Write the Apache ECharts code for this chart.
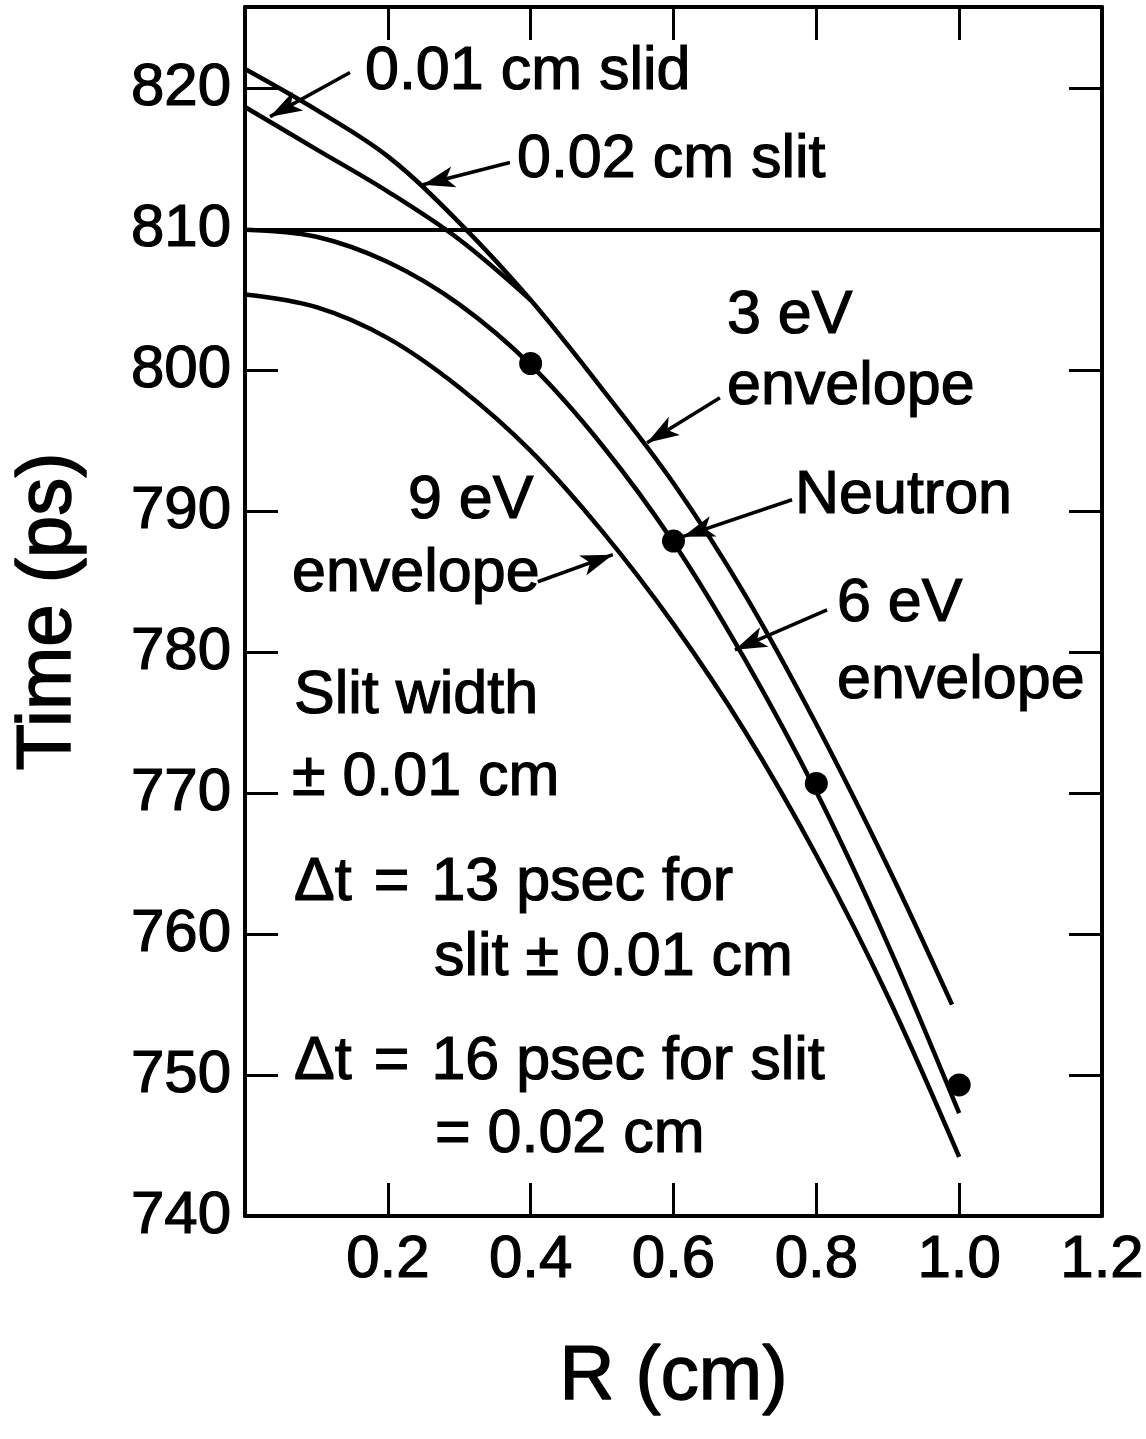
<!DOCTYPE html>
<html>
<head>
<meta charset="utf-8">
<script src="https://cdn.jsdelivr.net/npm/echarts@6/dist/echarts.min.js"></script>
<style>
html,body{margin:0;padding:0;background:#fff;}
#chart{width:1146px;height:1439px;}
</style>
</head>
<body>
<div id="chart"></div>
<script>
// ---- data ----
const R_TICKS = [0.2, 0.4, 0.6, 0.8, 1.0, 1.2];
const T_TICKS = [740, 750, 760, 770, 780, 790, 800, 810, 820];

const R_ENV = [0, 0.1, 0.2, 0.3, 0.4, 0.5, 0.6, 0.7, 0.8, 0.9, 1.0];
const ENV9 = [805.4, 804.5, 802.3, 798.8, 794.3, 788.6, 782.0, 774.4, 765.6, 755.6, 744.2];
const ENV6 = [810.0, 809.5, 807.7, 804.7, 800.4, 794.7, 787.8, 779.5, 770.1, 759.3, 747.3];

const R_SLIT = [0, 0.1, 0.2, 0.3, 0.4];
const SLIT_002 = [821.4, 818.5, 815.2, 810.5, 805.0];
const SLIT_001 = [818.7, 815.7, 812.7, 809.3, 805.0];

const R_ENV3 = [0.4, 0.5, 0.6, 0.7, 0.8, 0.9, 0.99];
const ENV3 = [805.0, 798.7, 792.0, 784.1, 774.9, 764.8, 755.0];

const R_NEUTRON = [0.4, 0.6, 0.8, 1.0];
const T_NEUTRON = [800.5, 787.9, 770.7, 749.3];

const REF_LINE = 810;

// annotation arrows: [fromR, fromT, toR, toT]
const ARROWS = [
  [0.147, 821.15, 0.035, 818.02],
  [0.371, 814.76, 0.249, 813.19],
  [0.665, 798.07, 0.563, 794.88],
  [0.766, 790.83, 0.613, 788.21],
  [0.410, 785.01, 0.515, 786.93],
  [0.815, 783.02, 0.686, 780.18]
];

// annotation texts: [text, left px, middle px]
const NOTES = [
  ['0.01 cm slid', 365, 72],
  ['0.02 cm slit', 517, 160],
  ['3 eV', 727, 316],
  ['envelope', 727, 387],
  ['Neutron', 795, 496],
  ['9 eV', 408, 501],
  ['envelope', 292, 574],
  ['6 eV', 837, 604],
  ['envelope', 837, 681],
  ['Slit width', 294, 696],
  ['\u00B1 0.01 cm', 292, 778],
  ['\u0394t\u200A = \u200A13 psec for', 294, 883],
  ['slit \u00B1 0.01 cm', 434, 958],
  ['\u0394t\u200A = \u200A16 psec for slit', 294, 1062],
  ['= 0.02 cm', 435, 1135]
];

// ---- chart ----
const FONT = '"Liberation Sans", Arial, Helvetica, sans-serif';
const BLACK = '#000';
const zip = (xs, ys) => xs.map((x, i) => [x, ys[i]]);

const chart = echarts.init(document.getElementById('chart'), null, {renderer: 'canvas'});

const axisLine = {show: true, onZero: false, lineStyle: {color: BLACK, width: 4}};
const axisTick = {show: true, inside: true, length: 33, lineStyle: {color: BLACK, width: 3}};
const labelStyle = {color: BLACK, fontSize: 60, fontFamily: FONT, textBorderColor: BLACK, textBorderWidth: 1.2};

const curveStyle = {color: BLACK, width: 4.5};
const curve = (name, data) => ({
  name, type: 'line', data, smooth: 0.35, showSymbol: false, symbol: 'none',
  lineStyle: curveStyle, itemStyle: {color: BLACK}, z: 3
});

// top curve: 0.02 cm slit that continues as the 3 eV envelope
const topCurve = zip(R_SLIT.slice(0, -1), SLIT_002.slice(0, -1)).concat(zip(R_ENV3, ENV3));

const option = {
  backgroundColor: '#fff',
  animation: false,
  grid: {left: 245, right: 44, top: 7, bottom: 223, containLabel: false, outerBoundsMode: 'none'},
  xAxis: [
    {
      type: 'value', position: 'bottom', min: 0, max: 1.2, interval: 0.2,
      axisLine, axisTick, splitLine: {show: false},
      axisLabel: Object.assign({margin: 14, formatter: v => R_TICKS.some(t => Math.abs(t - v) < 1e-6) ? v.toFixed(1) : ''}, labelStyle),
      name: 'R (cm)', nameLocation: 'middle', nameGap: 124,
      nameTextStyle: {color: BLACK, fontSize: 76, fontFamily: FONT, textBorderColor: BLACK, textBorderWidth: 1.5}
    },
    {
      type: 'value', position: 'top', min: 0, max: 1.2, interval: 0.2,
      axisLine, axisTick, splitLine: {show: false}, axisLabel: {show: false}
    }
  ],
  yAxis: [
    {
      type: 'value', position: 'left', min: 740, max: 825.8, interval: 10,
      axisLine, axisTick, splitLine: {show: false},
      axisLabel: Object.assign({margin: 14, formatter: v => T_TICKS.some(t => Math.abs(t - v) < 1e-6) ? String(Math.round(v)) : ''}, labelStyle),
      name: 'Time (ps)', nameLocation: 'middle', nameGap: 158, nameRotate: 90,
      nameTextStyle: {color: BLACK, fontSize: 76, fontFamily: FONT, textBorderColor: BLACK, textBorderWidth: 1.5}
    },
    {
      type: 'value', position: 'right', min: 740, max: 825.8, interval: 10,
      axisLine, axisTick, splitLine: {show: false}, axisLabel: {show: false}
    }
  ],
  series: [
    Object.assign(curve('9 eV envelope', zip(R_ENV, ENV9)), {
      markLine: {
        silent: true, animation: false, symbol: ['none', 'none'],
        label: {show: false},
        lineStyle: {color: BLACK, width: 4, type: 'solid'},
        data: [{yAxis: REF_LINE}]
      }
    }),
    curve('6 eV envelope', zip(R_ENV, ENV6)),
    curve('0.01 cm slit', zip(R_SLIT, SLIT_001)),
    Object.assign(curve('0.02 cm slit / 3 eV envelope', topCurve), {
      markLine: {
        silent: true, animation: false,
        label: {show: false},
        lineStyle: {color: BLACK, width: 3.5, type: 'solid'},
        data: ARROWS.map(a => [
          {coord: [a[0], a[1]], symbol: 'none'},
          {coord: [a[2], a[3]], symbol: 'arrow', symbolSize: [16, 32]}
        ])
      }
    }),
    {
      name: 'Neutron', type: 'scatter', data: zip(R_NEUTRON, T_NEUTRON),
      symbol: 'circle', symbolSize: 23, itemStyle: {color: BLACK, opacity: 1}, z: 4
    }
  ],
  graphic: NOTES.map(n => ({
    type: 'text', x: n[1], y: n[2], z: 10,
    style: {text: n[0], fill: BLACK, stroke: BLACK, lineWidth: 1.2, font: '61px ' + FONT, verticalAlign: 'middle'}
  }))
};

chart.setOption(option);
</script>
</body>
</html>
